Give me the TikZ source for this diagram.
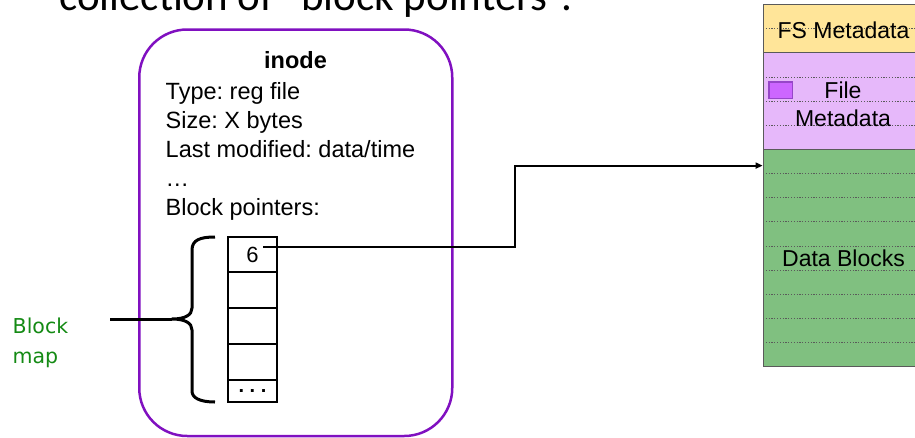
\documentclass[tikz,border=0pt]{standalone}
\usepackage{fontspec}
\setmainfont{Liberation Sans}
\newfontfamily\slidefont{Carlito}
\newfontfamily\mapfont{DejaVu Sans}
\usetikzlibrary{arrows.meta}

\definecolor{inodepurple}{RGB}{128,16,192}
\definecolor{fsyellow}{RGB}{255,229,153}
\definecolor{metapurple}{RGB}{230,184,250}
\definecolor{datagreen}{RGB}{128,192,128}
\definecolor{iconpurple}{RGB}{204,102,255}
\definecolor{iconedge}{RGB}{150,70,200}
\definecolor{mapgreen}{RGB}{20,138,20}
\definecolor{rowline}{RGB}{90,90,90}

\frenchspacing
\begin{document}
\begin{tikzpicture}[x=1pt,y=-1pt,
  txt/.style={inner sep=0pt, anchor=base west, font=\fontsize{23.5}{28}\selectfont},
  cell/.style={draw, line width=2pt, minimum width=49pt, inner sep=0pt, font=\fontsize{22}{26}\selectfont},
  region/.style={draw=rowline, line width=0.8pt, inner sep=0pt, minimum width=161pt},
  rowsep/.style={draw=rowline, line width=0.9pt, dash pattern=on 1.2pt off 1.6pt},
  regionlabel/.style={inner sep=0pt, align=center, font=\fontsize{23}{28.3}\selectfont},
  maplabel/.style={inner sep=0pt, anchor=base west, text=mapgreen, font=\mapfont\fontsize{20.5}{30}\selectfont},
  thick line/.style={line width=3pt, line join=round},
]
\useasboundingbox (0,0) rectangle (915,437);
\begin{scope}
\clip (0,0) rectangle (915,437);

% slide caption (runs above the top edge)
\node[anchor=base west, inner sep=0pt, font=\slidefont\fontsize{43}{50}\selectfont] (caption) at (59,10) {collection of “block pointers”.};

% disk layout column
\node[region, fill=fsyellow, minimum height=48.3pt] (fsmeta) at (843.5,28.65) {};
\node[region, fill=metapurple, minimum height=96.6pt] (filemeta) at (843.5,101.1) {};
\node[region, fill=datagreen, minimum height=217.35pt] (datablocks) at (843.5,258.075) {};
\foreach \k in {1,3,4,5,7,8,9,10,11,12,13,14}
  \draw[rowsep] (763,4.5+\k*24.15) -- (924,4.5+\k*24.15);
\node[regionlabel, yshift=-1.5pt] (fslabel) at (fsmeta) {FS Metadata};
\node[regionlabel] (filelabel) at (843,104) {File\\Metadata};
\node[regionlabel] (datalabel) at (datablocks) {Data Blocks};
\node[draw=iconedge, fill=iconpurple, line width=1.5pt, minimum width=23.5pt, minimum height=16.5pt, inner sep=0pt] (fileicon) at (780.5,90) {};

% the inode
\node[draw=inodepurple, line width=2.5pt, rounded corners=48pt, minimum width=313pt, minimum height=406.5pt, inner sep=0pt] (inode) at (295.75,232.75) {};
\node[txt, anchor=base, font=\bfseries\fontsize{23.5}{28}\selectfont] (title) at (295.5,68) {inode};
\node[txt] (type) at (165.5,99) {Type: reg file};
\node[txt] (size) at (165.5,128) {Size: X bytes};
\node[txt] (modified) at (165.5,157) {Last modified: data/time};
\node[txt] (more) at (165.5,186) {…};
\node[txt] (pointers) at (165.5,215) {Block pointers:};

% block pointer array
\node[cell, minimum height=35.5pt] (c1) at (252.5,254.5) {6};
\node[cell, minimum height=36pt] (c2) at (252.5,290.25) {};
\node[cell, minimum height=35.5pt] (c3) at (252.5,326) {};
\node[cell, minimum height=35.5pt] (c4) at (252.5,361.75) {};
\node[cell, minimum height=22.5pt, font=\bfseries\fontsize{20}{24}\selectfont] (c5) at (252.5,390.75) {.\ .\ .};

% pointer from the first entry to its data block
\coordinate (ptr) at (263,247);
\coordinate (bend) at (515,206);
\path (datablocks.north west) ++(0,16.6) coordinate (dataentry);
\draw[line width=2pt, -{Triangle[length=7pt,width=6pt]}] (ptr) -| (bend) |- (dataentry);

% brace grouping the block map
\coordinate (bracetop) at (215,237);
\coordinate (bracebot) at (215,402);
\coordinate (bracetip) at (172,319);
\coordinate (mapline) at (110,319);
\draw[thick line] (bracetop) .. controls (200,237) and (192,240) .. (192,250) -- (192,308)
  .. controls (192,315) and (185,319) .. (bracetip)
  .. controls (185,319) and (192,323) .. (192,330) -- (192,391)
  .. controls (192,398) and (200,402) .. (bracebot);
\draw[thick line] (mapline) -- (bracetip);
\node[maplabel] (mapword1) at (12.5,333) {Block};
\node[maplabel] (mapword2) at (12.5,363) {map};
\end{scope}
\end{tikzpicture}
\end{document}
